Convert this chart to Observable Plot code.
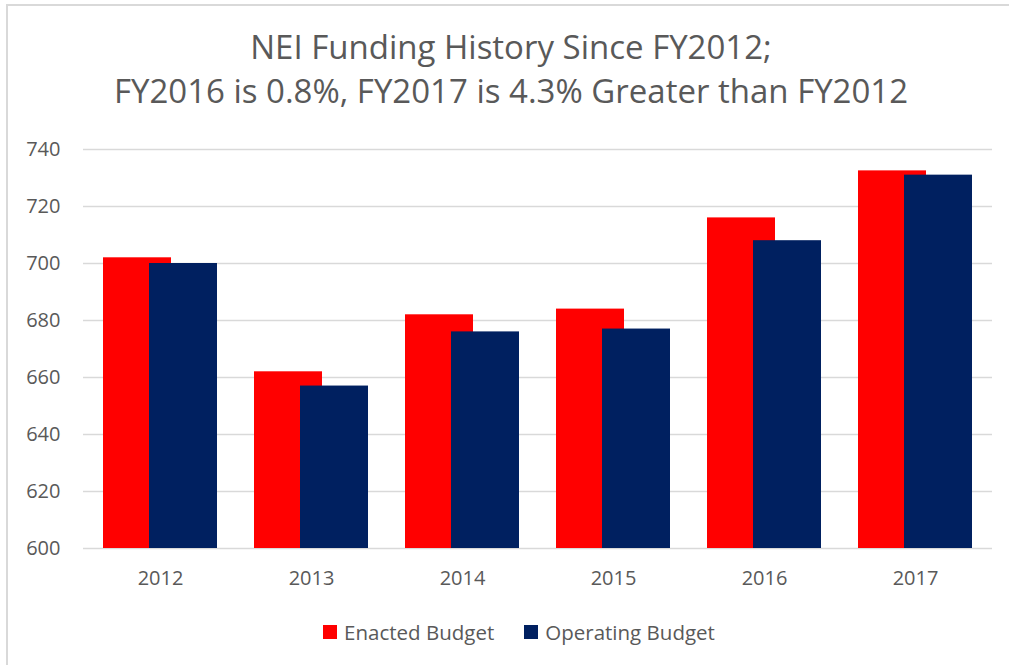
<!DOCTYPE html>
<html>
<head>
<meta charset="utf-8">
<script src="https://cdn.jsdelivr.net/npm/d3@7"></script>
<script src="https://cdn.jsdelivr.net/npm/@observablehq/plot@0.6"></script>
<style>
  html, body { margin: 0; padding: 0; background: #fff; }
  #wrap { position: relative; width: 1009px; height: 665px; overflow: hidden; font-family: "Open Sans", sans-serif; color: #595959; }
  #frame { position: absolute; left: 6px; top: 4px; width: 1100px; height: 800px; border-left: 2px solid #d9d9d9; border-top: 2px solid #d9d9d9; }
  #title { position: absolute; left: 0; width: 1022px; top: 25px; text-align: center; font-size: 33px; line-height: 44px; color: #595959; }
  #chart { position: absolute; left: 0; top: 120px; }
  #legend { position: absolute; left: 0; width: 1038px; top: 619px; display: flex; justify-content: center; align-items: center; font-size: 20.5px; line-height: 26px; color: #595959; }
  .sw { display: inline-block; width: 14px; height: 14px; margin-right: 7px; }
  .item { display: flex; align-items: center; margin: 0 15px; }
</style>
</head>
<body>
<div id="wrap">
  <div id="frame"></div>
  <div id="title">NEI Funding History Since FY2012;<br>FY2016 is 0.8%, FY2017 is 4.3% Greater than FY2012</div>
  <div id="chart"></div>
  <div id="legend"></div>
</div>
<script>
const years = ["2012", "2013", "2014", "2015", "2016", "2017"];
const enacted = [702, 662, 682, 684, 716, 732.5];
const operating = [700, 657, 676, 677, 708, 731];
const yTicks = [600, 620, 640, 660, 680, 700, 720, 740];
const seriesNames = ["Enacted Budget", "Operating Budget"];
const seriesColors = ["#ff0000", "#002060"];

const enactedData = years.map((y, i) => ({year: y, value: enacted[i]}));
const operatingData = years.map((y, i) => ({year: y, value: operating[i]}));

const chart = Plot.plot({
  width: 1009,
  height: 478,
  marginLeft: 83,
  marginRight: 17,
  marginTop: 29,
  marginBottom: 50,
  style: { fontFamily: "'Open Sans', sans-serif", fontSize: "20px", color: "#595959", background: "transparent" },
  x: { domain: years, paddingInner: 0.2475, paddingOuter: 0.124, label: null },
  y: { domain: [600, 740], label: null },
  marks: [
    Plot.ruleY(yTicks, { stroke: "#d9d9d9", strokeWidth: 1.5 }),
    Plot.barY(enactedData, { x: "year", y1: 600, y2: "value", fill: seriesColors[0], insetRight: 46, insetLeft: 0 }),
    Plot.barY(operatingData, { x: "year", y1: 600, y2: "value", fill: seriesColors[1], insetLeft: 46, insetRight: 0 }),
    Plot.axisY({ ticks: yTicks, tickSize: 0, tickPadding: 23, label: null, fill: "#595959" }),
    Plot.axisX({ tickSize: 0, tickPadding: 22, label: null, fill: "#595959" })
  ]
});
document.getElementById("chart").appendChild(chart);

const legend = document.getElementById("legend");
seriesNames.forEach((name, i) => {
  const item = document.createElement("div");
  item.className = "item";
  const sw = document.createElement("span");
  sw.className = "sw";
  sw.style.background = seriesColors[i];
  const t = document.createElement("span");
  t.textContent = name;
  item.appendChild(sw);
  item.appendChild(t);
  legend.appendChild(item);
});
</script>
</body>
</html>
